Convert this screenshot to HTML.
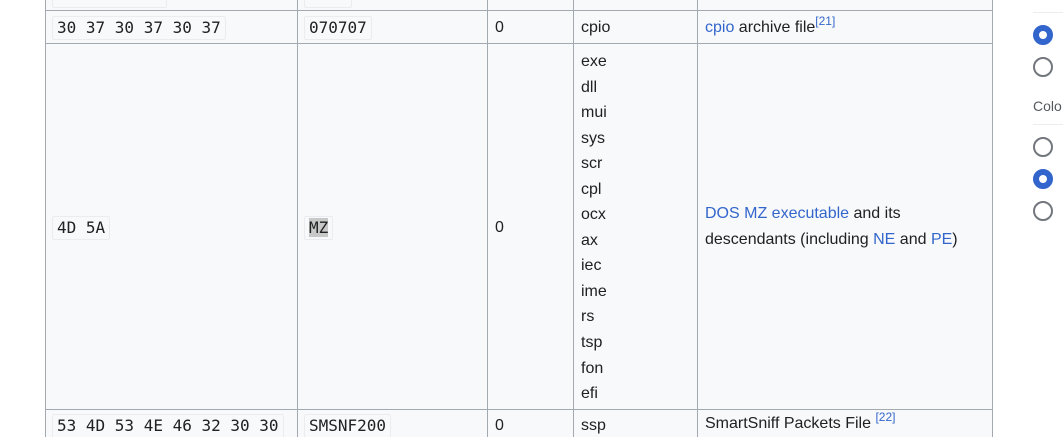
<!DOCTYPE html>
<html><head><meta charset="utf-8"><style>
html,body{margin:0;width:1063px;height:437px;overflow:hidden}
body{background:#fff;position:relative;font-family:"Liberation Sans",sans-serif;font-size:16px;color:#202122}
.tbl{position:absolute;left:45px;top:0;width:948px;height:437px;background:#f8f9fa}
.v{position:absolute;top:0;width:1px;height:437px;background:#a2a9b1}
.h{position:absolute;left:45px;width:948px;height:1px;background:#a2a9b1}
.t{position:absolute;white-space:nowrap;line-height:20px}
code{font-family:"DejaVu Sans Mono","Liberation Mono",monospace;font-size:16px;background:#f8f9fa;border:1px solid #eaecf0;border-radius:2px;padding:1px 4px;color:#202122;position:absolute;white-space:nowrap;line-height:20px}
a{color:#3366cc;text-decoration:none}
sup{font-size:12px;vertical-align:7px;line-height:0}
.r{position:absolute;left:1033px;width:16px;height:16px;border:2px solid #72777d;border-radius:50%;background:#fff}
.r.on{border:6px solid #3366cc;width:8px;height:8px}
</style></head><body>
<div class="tbl"></div>
<div class="v" style="left:45px"></div><div class="v" style="left:297px"></div><div class="v" style="left:487px"></div><div class="v" style="left:573px"></div><div class="v" style="left:697px"></div><div class="v" style="left:992px"></div>
<div class="h" style="top:10px"></div><div class="h" style="top:43px"></div><div class="h" style="top:409px"></div>
<code style="left:52px;top:-16px;width:105px">&nbsp;</code>
<code style="left:304px;top:-16px;width:38px">&nbsp;</code>

<code style="left:52px;top:16px">30 37 30 37 30 37</code>
<code style="left:304px;top:16px">070707</code>
<div class="t" style="left:495px;top:18px">0</div>
<div class="t" style="left:581px;top:18px">cpio</div>
<div class="t" style="left:705px;top:18px"><a>cpio</a> archive file<sup><a>[21]</a></sup></div>

<code style="left:52px;top:216px">4D 5A</code>
<code style="left:304px;top:216px"><span style="background:#c8c8c8">MZ</span></code>
<div class="t" style="left:495px;top:218px">0</div>
<div class="t" style="left:581px;top:49px;line-height:25.55px">exe<br>dll<br>mui<br>sys<br>scr<br>cpl<br>ocx<br>ax<br>iec<br>ime<br>rs<br>tsp<br>fon<br>efi</div>
<div class="t" style="left:705px;top:201px;line-height:26px"><a>DOS MZ executable</a> and its<br>descendants (including <a>NE</a> and <a>PE</a>)</div>

<code style="left:52px;top:414px">53 4D 53 4E 46 32 30 30</code>
<code style="left:304px;top:414px">SMSNF200</code>
<div class="t" style="left:495px;top:416px">0</div>
<div class="t" style="left:581px;top:416px">ssp</div>
<div class="t" style="left:705px;top:414px">SmartSniff Packets File <sup><a>[22]</a></sup></div>

<div style="position:absolute;left:1033px;top:12px;width:30px;height:1px;background:#eaecf0"></div>
<div class="r on" style="top:25px"></div><div class="r" style="top:57px"></div>
<div class="t" style="left:1033px;top:96px;font-size:14px;color:#54595d">Colo</div>
<div style="position:absolute;left:1033px;top:124px;width:30px;height:1px;background:#eaecf0"></div>
<div class="r" style="top:137px"></div><div class="r on" style="top:169px"></div><div class="r" style="top:201px"></div>
</body></html>
